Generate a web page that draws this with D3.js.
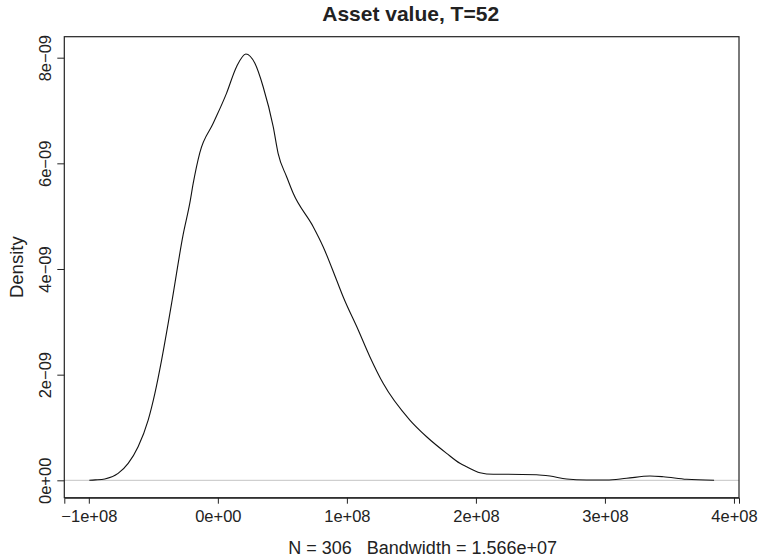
<!DOCTYPE html>
<html>
<head>
<meta charset="utf-8">
<script src="https://cdn.jsdelivr.net/npm/d3@7"></script>
<style>
  body { margin: 0; background: #fff; }
  text { font-family: "Liberation Sans", Arial, Helvetica, sans-serif; fill: #222; }
</style>
</head>
<body>
<svg id="chart" width="762" height="560"></svg>
<script>
// density estimate (x = asset value, y = density)
const densX = [-0.996e8, -0.95e8, -0.876e8, -0.773e8, -0.695e8, -0.618e8, -0.540e8, -0.488e8,
    -0.436e8, -0.385e8, -0.354e8, -0.269e8, -0.217e8, -0.191e8, -0.140e8, -0.036e8,
    0.067e8, 0.145e8, 0.217e8, 0.287e8, 0.351e8, 0.429e8, 0.467e8, 0.533e8, 0.584e8,
    0.739e8, 0.816e8, 0.920e8, 0.971e8, 1.088e8, 1.178e8, 1.281e8, 1.488e8, 1.618e8,
    1.773e8, 1.876e8, 1.928e8, 2.031e8, 2.134e8, 2.238e8, 2.470e8, 2.574e8, 2.703e8,
    2.858e8, 3.013e8, 3.168e8, 3.349e8, 3.452e8, 3.633e8, 3.846e8];
const densY = [0.001e-9, 0.008e-9, 0.025e-9, 0.132e-9, 0.322e-9, 0.636e-9, 1.141e-9, 1.647e-9,
    2.277e-9, 2.972e-9, 3.413e-9, 4.650e-9, 5.250e-9, 5.620e-9, 6.200e-9, 6.757e-9,
    7.325e-9, 7.829e-9, 8.069e-9, 7.893e-9, 7.450e-9, 6.693e-9, 6.190e-9, 5.747e-9, 5.432e-9,
    4.800e-9, 4.422e-9, 3.791e-9, 3.475e-9, 2.845e-9, 2.340e-9, 1.836e-9, 1.141e-9, 0.825e-9,
    0.511e-9, 0.322e-9, 0.257e-9, 0.144e-9, 0.114e-9, 0.114e-9, 0.106e-9, 0.081e-9, 0.025e-9,
    0.006e-9, 0.005e-9, 0.038e-9, 0.081e-9, 0.068e-9, 0.019e-9, 0.002e-9];

const xTicks = [-1e8, 0, 1e8, 2e8, 3e8, 4e8];
const xTickLabels = ["\u22121e+08", "0e+00", "1e+08", "2e+08", "3e+08", "4e+08"];
const yTicks = [0, 2e-9, 4e-9, 6e-9, 8e-9];
const yTickLabels = ["0e+00", "2e\u221209", "4e\u221209", "6e\u221209", "8e\u221209"];

const title = "Asset value, T=52";
const xLabel = "N = 306   Bandwidth = 1.566e+07";
const yLabel = "Density";

let svg = d3.select("#chart");

let plotLeft = 64.3, plotRight = 739, plotTop = 36.7, plotBottom = 497.7;

let x = d3.scaleLinear().domain([-1.19e8, 4.039e8]).range([plotLeft, plotRight]);
let y = d3.scaleLinear().domain([-0.329e-9, 8.397e-9]).range([plotBottom, plotTop]);

// zero reference line
svg.append("line")
    .attr("x1", plotLeft).attr("x2", plotRight)
    .attr("y1", y(0)).attr("y2", y(0))
    .attr("stroke", "#c4c4c4").attr("stroke-width", 1);

// the density curve
let points = densX.map((d, i) => [d, densY[i]]);
let line = d3.line()
    .x(d => x(d[0]))
    .y(d => y(d[1]))
    .curve(d3.curveMonotoneX);

svg.append("path")
    .datum(points)
    .attr("d", line)
    .attr("fill", "none")
    .attr("stroke", "#111")
    .attr("stroke-width", 1.1);

// box
svg.append("rect")
    .attr("x", plotLeft).attr("y", plotTop)
    .attr("width", plotRight - plotLeft).attr("height", plotBottom - plotTop)
    .attr("fill", "none").attr("stroke", "#222").attr("stroke-width", 1.2);

// axes
let xAxis = d3.axisBottom(x)
    .tickValues(xTicks)
    .tickSize(6)
    .tickPadding(7)
    .tickFormat((d, i) => xTickLabels[i]);

let gx = svg.append("g")
    .attr("transform", "translate(0," + plotBottom + ")")
    .call(xAxis);
gx.select(".domain").attr("stroke", "#222");
gx.selectAll(".tick line").attr("stroke", "#222");
gx.selectAll(".tick text")
    .attr("font-size", 16.5)
    .attr("font-family", null)
    .attr("fill", "#222");

let yAxis = d3.axisLeft(y)
    .tickValues(yTicks)
    .tickSize(7)
    .tickFormat((d, i) => yTickLabels[i]);

let gy = svg.append("g")
    .attr("transform", "translate(" + plotLeft + ",0)")
    .call(yAxis);
gy.select(".domain").remove();
gy.selectAll(".tick line").attr("stroke", "#222");
gy.selectAll(".tick text")
    .attr("font-size", 16.5)
    .attr("font-family", null)
    .attr("fill", "#222")
    .attr("x", null).attr("dy", null)
    .attr("text-anchor", "middle")
    .attr("transform", "translate(-13,0) rotate(-90)");

// labels
svg.append("text")
    .attr("x", (plotLeft + plotRight) / 2 + 9).attr("y", 21)
    .attr("text-anchor", "middle")
    .attr("font-size", 21).attr("font-weight", "bold")
    .text(title);

svg.append("text")
    .attr("x", (plotLeft + plotRight) / 2 + 21).attr("y", 554)
    .attr("text-anchor", "middle")
    .attr("font-size", 18)
    .style("white-space", "pre")
    .text(xLabel);

svg.append("text")
    .attr("transform", "translate(23," + ((plotTop + plotBottom) / 2) + ") rotate(-90)")
    .attr("text-anchor", "middle")
    .attr("font-size", 18.5)
    .text(yLabel);
</script>
</body>
</html>
